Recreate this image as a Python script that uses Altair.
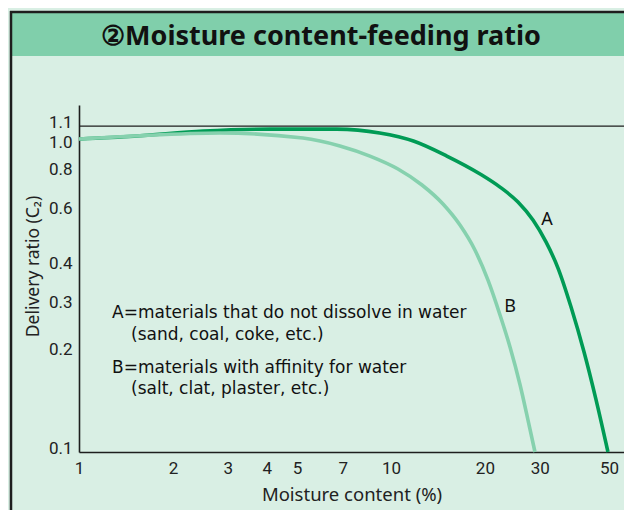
import altair as alt
import pandas as pd

# ---- data ----
moisture_A = [1.0, 1.5, 2.5, 4.1, 6.7, 9.2, 11.8, 15.1, 19.3, 22.36, 25.53, 28.52, 31.39, 34.3, 37.75, 41.55, 45.41, 49.6]
ratio_A = [1.0, 1.02, 1.06, 1.075, 1.075, 1.045, 0.985, 0.882, 0.773, 0.702, 0.629, 0.551, 0.469, 0.387, 0.291, 0.209, 0.147, 0.1]

moisture_B = [1.0, 1.5, 2.83, 5.22, 6.86, 8.56, 10.53, 12.57, 14.68, 16.64, 18.58, 20.46, 22.36, 24.07, 25.92, 27.49, 28.94]
ratio_B = [1.0, 1.022, 1.045, 1.007, 0.950, 0.882, 0.802, 0.713, 0.620, 0.531, 0.442, 0.354, 0.274, 0.2165, 0.164, 0.1265, 0.1]

x_ticks = [1, 2, 3, 4, 5, 7, 10, 20, 30, 50]
y_ticks = [0.1, 0.2, 0.3, 0.4, 0.6, 0.8, 1.0, 1.1]
ref_line = [1.1]

curve_names = ["A", "B"]
curve_label_x = [31.6, 24.1]
curve_label_y = [0.551, 0.291]

note_lines = [
    "A=materials that do not dissolve in water",
    "(sand, coal, coke, etc.)",
    "B=materials with affinity for water",
    "(salt, clat, plaster, etc.)",
]
note_x = [1.276, 1.468, 1.276, 1.468]
note_y = [0.268, 0.228, 0.179, 0.153]

title_text = "②Moisture content-feeding ratio"
x_title = "Moisture content (%)"
y_title = "Delivery ratio (C₂)"

# ---- styles ----
LIGHT = "#d9efe4"
BAND = "#80cfab"
DARK_GREEN = "#009b55"
LIGHT_GREEN = "#86d1ae"
FRAME = "#1e1e1e"
AXIS_FONT = "Roboto"
TEXT_FONT = "Noto Sans"
NOTE_FONT = "DejaVu Sans"

W, H = 545, 347

curves = pd.concat([
    pd.DataFrame({"moisture": moisture_A, "ratio": ratio_A, "curve": "A", "order": range(len(moisture_A))}),
    pd.DataFrame({"moisture": moisture_B, "ratio": ratio_B, "curve": "B", "order": range(len(moisture_B))}),
])
labels_df = pd.DataFrame({"moisture": curve_label_x, "ratio": curve_label_y, "name": curve_names})
notes_df = pd.DataFrame({"moisture": note_x, "ratio": note_y, "text": note_lines})
ref_df = pd.DataFrame({"ratio": ref_line})
title_df = pd.DataFrame({"t": [title_text]})

xscale = alt.Scale(type="log", domain=[1, 55.83], nice=False)
yscale = alt.Scale(type="log", domain=[0.1, 1.284], nice=False)

x_axis = alt.Axis(
    values=x_ticks, format="d", title=x_title, ticks=False, grid=False,
    domainColor=FRAME, domainWidth=1.6, labelFont=AXIS_FONT, labelFontSize=17,
    labelColor="#222", labelPadding=8, labelFlush=False, labelOverlap=False,
    titleFont=TEXT_FONT, titleFontSize=18.5, titleFontWeight="normal", titleColor="#222",
    titleBaseline="alphabetic", titleY=48,
)
y_axis = alt.Axis(
    values=y_ticks, format=".1f", title=y_title, ticks=False, grid=False,
    domainColor=FRAME, domainWidth=1.6, labelFont=AXIS_FONT, labelFontSize=17,
    labelColor="#222", labelPadding=7, labelFlush=False, labelOverlap=False,
    labelOffset=alt.ExprRef(expr="datum.value == 1.1 ? -4 : (datum.value == 1 ? 4 : (datum.value == 0.2 ? -8 : (datum.value == 0.1 ? -4 : 0)))"),
    titleFont=TEXT_FONT, titleFontSize=17.5, titleFontWeight="normal", titleColor="#222",
    titleAngle=270, titleX=-41, titleY=161, titleAlign="center", titleBaseline="alphabetic",
)

band = alt.Chart(title_df).mark_rect(color=BAND).encode(
    x=alt.value(-67), x2=alt.value(W), y=alt.value(-92), y2=alt.value(-49)
)
frame_top = alt.Chart(title_df).mark_rule(color=FRAME, strokeWidth=2.5).encode(
    x=alt.value(-69), x2=alt.value(W), y=alt.value(-93)
)
frame_left = alt.Chart(title_df).mark_rule(color=FRAME, strokeWidth=2.5).encode(
    x=alt.value(-68), y=alt.value(-94), y2=alt.value(420)
)
title = alt.Chart(title_df).mark_text(
    font=TEXT_FONT, fontSize=27, fontWeight="bold", color="#111",
    align="center", baseline="alphabetic"
).encode(x=alt.value(242), y=alt.value(-60), text="t:N")

ref = alt.Chart(ref_df).mark_rule(color=FRAME, strokeWidth=1.3).encode(
    y=alt.Y("ratio:Q", scale=yscale, axis=y_axis)
)

lines = alt.Chart(curves).mark_line(strokeWidth=3.6, interpolate="monotone").encode(
    x=alt.X("moisture:Q", scale=xscale, axis=x_axis),
    y=alt.Y("ratio:Q", scale=yscale, axis=y_axis),
    color=alt.Color("curve:N", scale=alt.Scale(domain=["A", "B"], range=[DARK_GREEN, LIGHT_GREEN]), legend=None),
    order="order:Q",
)

curve_labels = alt.Chart(labels_df).mark_text(
    font=TEXT_FONT, fontSize=18, color="#111", align="center", baseline="middle"
).encode(
    x=alt.X("moisture:Q", scale=xscale), y=alt.Y("ratio:Q", scale=yscale), text="name:N"
)

notes = alt.Chart(notes_df).mark_text(
    font=NOTE_FONT, fontSize=17, color="#111", align="left", baseline="alphabetic"
).encode(
    x=alt.X("moisture:Q", scale=xscale), y=alt.Y("ratio:Q", scale=yscale), text="text:N"
)

chart = alt.layer(
    band, frame_top, frame_left, title, ref, lines, curve_labels, notes
).properties(
    width=W, height=H,
    autosize=alt.AutoSizeParams(type="none"),
    padding={"left": 71, "top": 97, "right": 0, "bottom": 58},
).configure(background=LIGHT).configure_view(stroke=None)

chart.save("out.html", embed_options={"renderer": "svg", "actions": False})
